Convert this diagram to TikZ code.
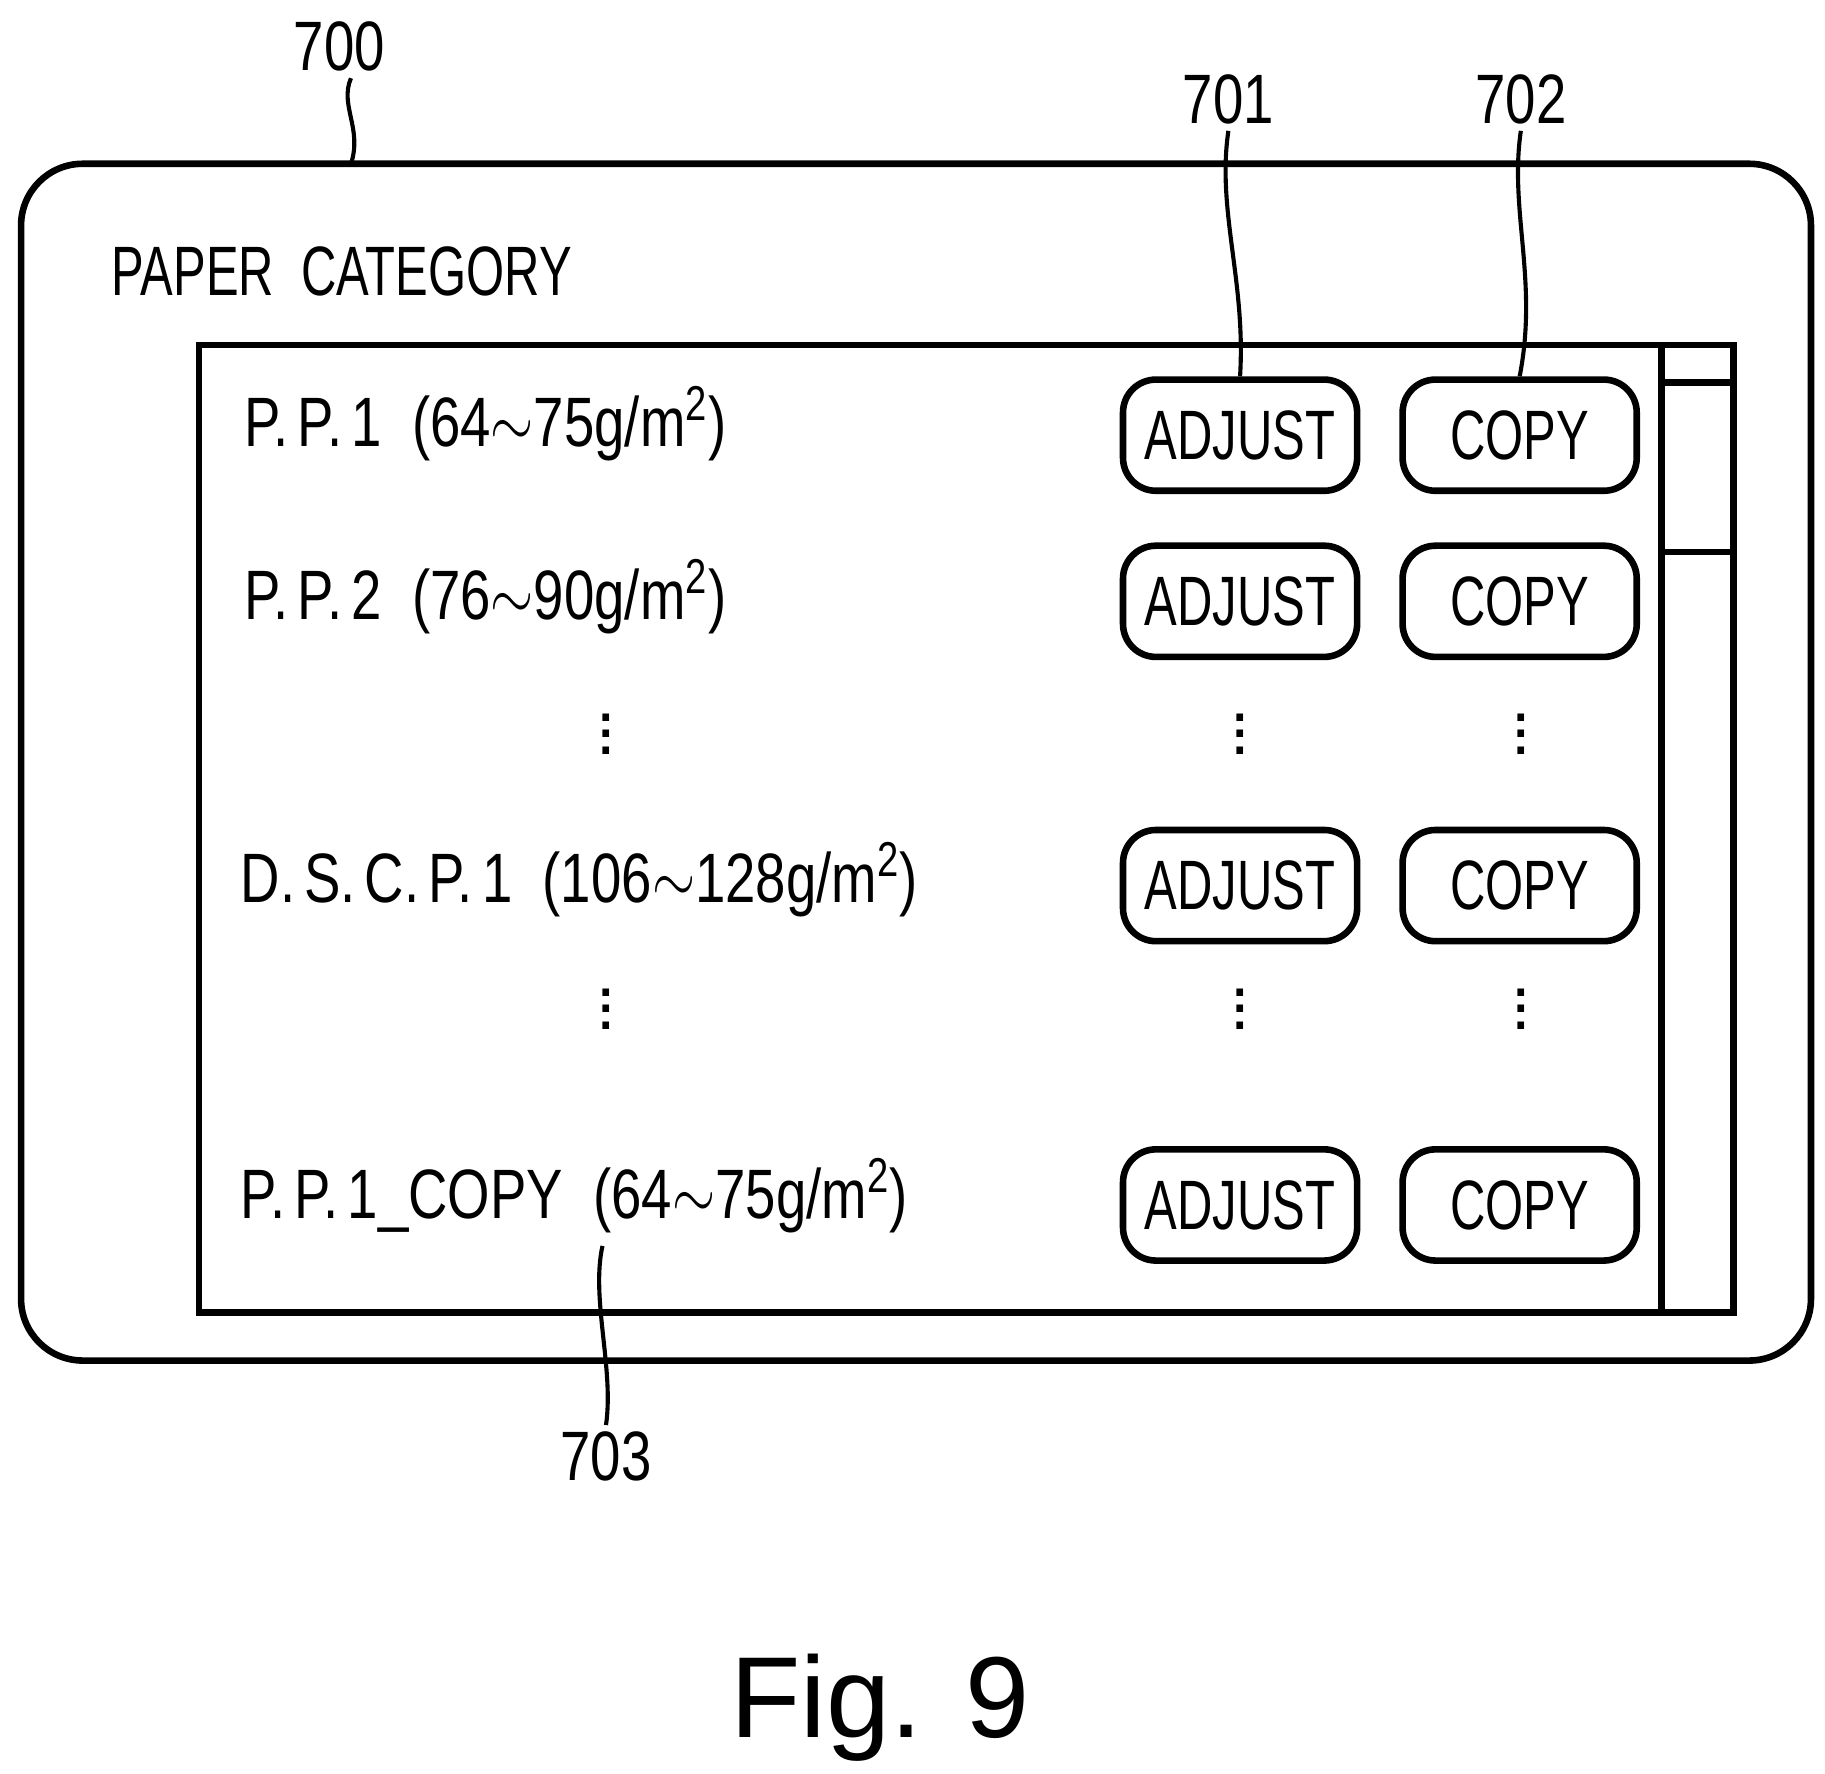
\documentclass[tikz,border=0pt]{standalone}
\usepackage{fontspec}
\setmainfont{Liberation Sans}
\newcommand\cnd[1]{\scalebox{0.78}[1]{#1}}
\newcommand\bcnd[1]{\scalebox{0.7}[1]{#1}}
\begin{document}
\begin{tikzpicture}[x=0.01cm,y=-0.01cm,
  ln/.style={line width=1.6pt},
  btn/.style={draw,ln,rounded corners=8pt,minimum width=2cm,minimum height=0.95cm,inner sep=0pt,font=\fontsize{17}{18}\selectfont},
  lbl/.style={anchor=west,inner sep=0pt,font=\fontsize{17}{18}\selectfont},
  num/.style={inner sep=0pt,font=\fontsize{17}{18}\selectfont},
  lead/.style={line width=1pt}]
\useasboundingbox (0,0) rectangle (1560,1516);
\draw[ln,rounded corners=15pt] (18,140) rectangle (1548,1163);
\node[num] (n700) at (290,40) {\cnd{700}};
\coordinate (c700) at (300,140);
\draw[lead] (n700.south) ++(10,5) .. controls (290,90) and (310,110) .. (c700);
\node[lbl] (title) at (95,232) {\scalebox{0.7}[1]{PAPER\ \ CATEGORY}};
\draw[ln] (170,295) rectangle (1482,1122);
\draw[ln] (1420,295) -- (1420,1122);
\draw[ln] (1420,327) -- (1482,327);
\draw[ln] (1420,472) -- (1482,472);
\foreach \i/\y in {1/372,2/514,3/757,4/1030}{
  \node[btn] (a\i) at (1060,\y) {\bcnd{ADJUST}};
  \node[btn] (c\i) at (1299,\y) {\bcnd{COPY}};
}
\node[lbl] (r1) at (208,362) {\cnd{P.\,P.\,1\ \ (64$\sim$75g/m\textsuperscript{2})}};
\node[lbl] (r2) at (208,510) {\cnd{P.\,P.\,2\ \ (76$\sim$90g/m\textsuperscript{2})}};
\node[lbl] (r3) at (205,752) {\cnd{D.\,S.\,C.\,P.\,1\ \ (106$\sim$128g/m\textsuperscript{2})}};
\node[lbl] (r4) at (205,1022) {\cnd{P.\,P.\,1\_COPY\ \ (64$\sim$75g/m\textsuperscript{2})}};
\foreach \x/\n in {518/d,1060/e,1300/f}{
  \foreach \y/\m in {617/1,852/2}{
    \node[inner sep=0pt] (\n\m) at (\x,\y) {\fontsize{17}{18}\selectfont$\vdots$};
  }
}
\node[num] (n701) at (1050,85) {\cnd{701}};
\node[num] (n702) at (1300,85) {\cnd{702}};
\node[num] (n703) at (518,1245) {\cnd{703}};
\draw[lead] (n701.south) ++(0,5) .. controls (1040,180) and (1065,240) .. (a1.north);
\draw[lead] (n702.south) ++(0,5) .. controls (1290,180) and (1315,240) .. (c1.north);
\draw[lead] (n703.north) ++(0,-5) .. controls (525,1170) and (505,1110) .. (515,1065);
\node[inner sep=0pt,font=\fontsize{28}{30}\selectfont] (fig) at (752,1460) {Fig. 9};
\end{tikzpicture}
\end{document}
